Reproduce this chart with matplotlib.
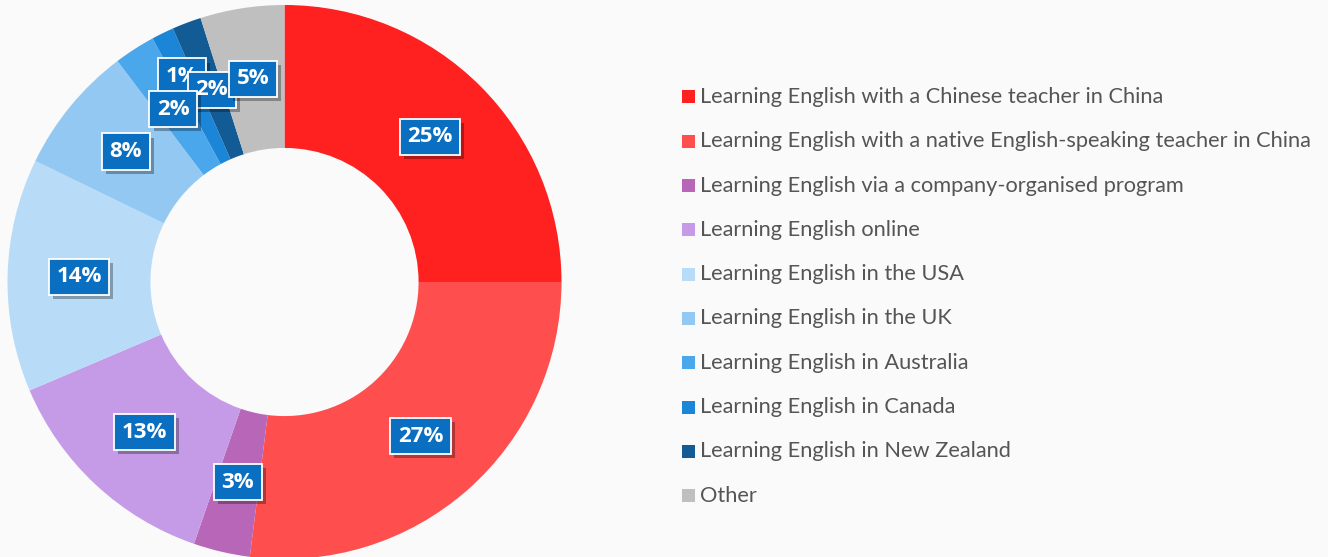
import matplotlib
matplotlib.use("Agg")
import matplotlib.pyplot as plt
from matplotlib.patches import Rectangle
import matplotlib.patheffects as pe
import numpy as np

categories = [
    "Learning English with a Chinese teacher in China",
    "Learning English with a native English-speaking teacher in China",
    "Learning English via a company-organised program",
    "Learning English online",
    "Learning English in the USA",
    "Learning English in the UK",
    "Learning English in Australia",
    "Learning English in Canada",
    "Learning English in New Zealand",
    "Other",
]
values = [25.0, 27.0, 3.3, 13.3, 13.6, 7.5, 2.4, 1.3, 1.7, 4.9]
colors = ["#ff2020", "#ff4e4e", "#b867b8", "#c59be8", "#b8dcf7",
          "#92c8f2", "#4aa7ec", "#1b85d8", "#135b94", "#bfbfbf"]

# label nudges (pixels) for overlapping small labels
nudges = {7: (-12, 21)}
label_z = {6: 12, 7: 10, 8: 11, 9: 13}

W, H = 1328, 557
fig = plt.figure(figsize=(W / 100, H / 100), dpi=100)
bg = "#fafafa"
fig.patch.set_facecolor(bg)

cx, cy, R = 284.5, 282.0, 277.0
ax = fig.add_axes([(cx - R) / W, (H - cy - R) / H, 2 * R / W, 2 * R / H])
ax.set_facecolor("none")
inner = 0.484
wedges, _ = ax.pie(values, colors=colors, startangle=90, counterclock=False,
                   radius=1.0, wedgeprops=dict(width=1 - inner, linewidth=0))
ax.set_xlim(-1, 1)
ax.set_ylim(-1, 1)
ax.set_aspect("equal")
ax.axis("off")

total = sum(values)
cum = 0
rmid = (1 + inner) / 2
for i, v in enumerate(values):
    mid = (cum + v / 2) / total
    cum += v
    ang = np.deg2rad(90 - 360 * mid)
    x, y = rmid * np.cos(ang), rmid * np.sin(ang)
    dx, dy = nudges.get(i, (0, 0))
    x += dx / R
    y += dy / R
    t = ax.text(x, y, f"{round(v / total * 100):d}%", ha="center", va="center",
                color="white", fontsize=16, fontweight="bold", family="Open Sans",
                zorder=label_z.get(i, 10),
                bbox=dict(boxstyle="square,pad=0.34", facecolor="#0b6fc1",
                          edgecolor="white", linewidth=1.3))
    t.get_bbox_patch().set_path_effects(
        [pe.SimplePatchShadow(offset=(3, -3), shadow_rgbFace="black", alpha=0.3), pe.Normal()])

# legend
y0, step = 97, 44.3
for i, (c, col) in enumerate(zip(categories, colors)):
    yc = y0 + i * step
    fig.patches.append(Rectangle(((682) / W, (H - yc - 6.5) / H), 13 / W, 13 / H,
                                 transform=fig.transFigure, facecolor=col,
                                 edgecolor="none"))
    fig.text(700 / W, (H - yc) / H, c, ha="left", va="center", color="#555555",
             fontsize=15.7, family="Lato")

fig.savefig("out.png", dpi=100, facecolor=bg)
